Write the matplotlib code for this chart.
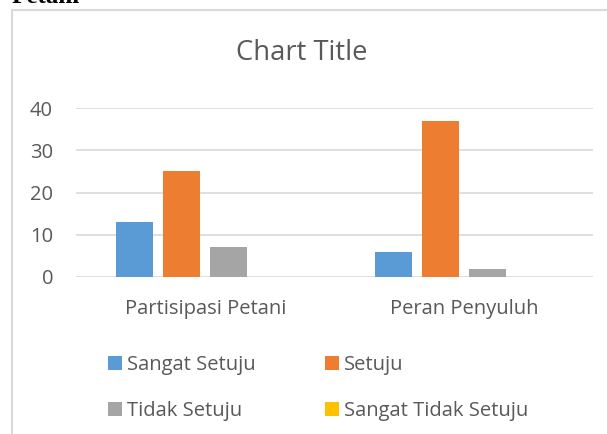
import matplotlib
matplotlib.use("Agg")
import matplotlib.pyplot as plt
from matplotlib.patches import Rectangle
import numpy as np

categories = ["Partisipasi Petani", "Peran Penyuluh"]
series_names = ["Sangat Setuju", "Setuju", "Tidak Setuju", "Sangat Tidak Setuju"]
sangat_setuju = [13, 6]
setuju = [25, 37]
tidak_setuju = [7, 2]
sangat_tidak_setuju = [0, 0]
yticks = [0, 10, 20, 30, 40]
colors = ["#5B9BD5", "#ED7D31", "#A5A5A5", "#FFC000"]

plt.rcParams['font.family'] = ['Open Sans', 'DejaVu Sans']
W, H = 607, 434
fig = plt.figure(figsize=(W/100, H/100), dpi=100)

def fx(px): return px / W
def fy(py): return 1 - py / H

# chart border (extends beyond the image to the right and bottom)
border = Rectangle((fx(12), fy(460)), fx(700), fy(10) - fy(460),
                   transform=fig.transFigure, fill=False, edgecolor="#D9D9D9", linewidth=1.5)
fig.patches.append(border)

fig.text(fx(12), fy(3), "Petani", fontsize=18, fontweight='bold', family='Liberation Serif',
         ha='left', va='baseline', color='black')

ax = fig.add_axes([fx(76), fy(277), fx(593) - fx(76), fy(108) - fy(277)])
ax.set_ylim(0, 40)
ax.set_xlim(-0.5, 1.5)

data = [sangat_setuju, setuju, tidak_setuju, sangat_tidak_setuju]
x = np.arange(len(categories))
bw = 0.143
step = 0.182
handles = []
for i, (vals, name, c) in enumerate(zip(data, series_names, colors)):
    h = ax.bar(x + (i - 1.5) * step, vals, width=bw, color=c, label=name, zorder=3)
    handles.append(h)

ax.set_yticks(yticks)
ax.grid(axis='y', color='#D9D9D9', linewidth=1.2, zorder=0)
for s in ax.spines.values():
    s.set_visible(False)
ax.tick_params(axis='both', length=0, labelsize=14.5, labelcolor='#595959')
ax.tick_params(axis='y', pad=16.5)
ax.tick_params(axis='x', pad=16)
ax.set_xticks(x)
ax.set_xticklabels(categories)

fig.text(fx(302), fy(53), "Chart Title", fontsize=19.7, color='#595959', ha='center', va='center')

order = [0, 2, 1, 3]
leg = fig.legend([handles[i] for i in order], [series_names[i] for i in order],
                 loc='upper left', bbox_to_anchor=(fx(108), fy(355)), ncol=2, frameon=False,
                 borderpad=0, borderaxespad=0,
                 fontsize=14.5, labelcolor='#595959', handlelength=0.7, handleheight=0.7,
                 handletextpad=0.25, columnspacing=3.45, labelspacing=1.3)
plt.savefig("out.png", dpi=100)
